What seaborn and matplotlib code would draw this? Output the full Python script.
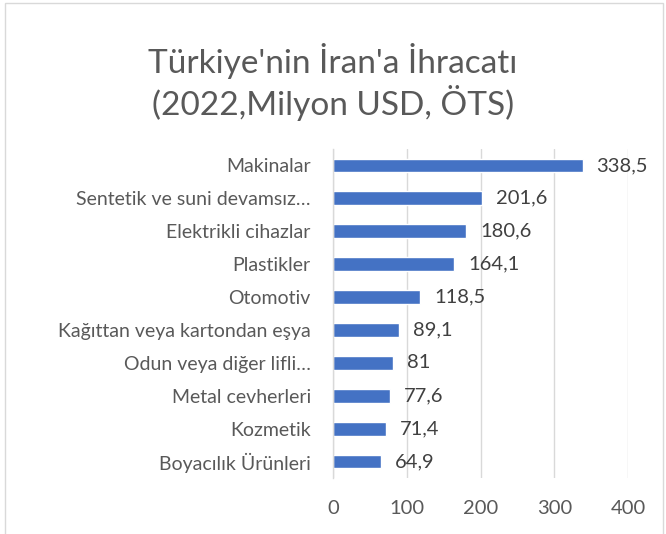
import matplotlib.pyplot as plt
import seaborn as sns
import pandas as pd
import matplotlib.patches as mpatches

# Data
categories=["Makinalar","Sentetik ve suni devamsız…","Elektrikli cihazlar","Plastikler",
	"Otomotiv","Kağıttan veya kartondan eşya","Odun veya diğer lifli…",
	"Metal cevherleri","Kozmetik","Boyacılık Ürünleri"]
values=[338.5,201.6,180.6,164.1,118.5,89.1,81,77.6,71.4,64.9]
xticks=[0,100,200,300,400]
title="Türkiye'nin İran'a İhracatı\n(2022,Milyon USD, ÖTS)"

bar_color="#4472C4"
text_color="#595959"

sns.set_theme(style="white")
plt.rcParams['font.family']=['Lato','DejaVu Sans']

df=pd.DataFrame({"category":categories,"value":values})

fig=plt.figure(figsize=(6.66,5.34),dpi=100)
ax=fig.add_axes([333/666,1-478/534,(628-333)/666,(478-149)/534])

sns.barplot(data=df,x="value",y="category",color=bar_color,width=0.42,
	saturation=1,ax=ax,orient="h")

# Data labels in Turkish decimal format
for i,v in enumerate(values):
	lab=f"{v:g}".replace(".",",")
	ax.annotate(lab,(v,i),xytext=(10,0),textcoords="offset points",
		va="center",ha="left",fontsize=14.5,color="#404040")

ax.set_xlim(0,400)
ax.set_xticks(xticks)
ax.set_xticklabels([str(t) for t in xticks])
ax.set_ylim(len(categories)-0.5,-0.5)
ax.set_xlabel("")
ax.set_ylabel("")

# Gridlines and spines
ax.xaxis.grid(True,color="#D9D9D9",linewidth=1)
ax.set_axisbelow(True)
for s in ["top","right","bottom"]:
	ax.spines[s].set_visible(False)
ax.spines["left"].set_color("#D9D9D9")
ax.spines["left"].set_linewidth(1)

ax.tick_params(axis="y",length=0,pad=16,labelsize=14,labelcolor=text_color)
ax.tick_params(axis="x",length=0,pad=16,labelsize=14.5,labelcolor=text_color)

fig.text(0.5,1-82/534,title,ha="center",va="center",fontsize=24,
	color=text_color,linespacing=1.2)

# Light frame around the chart area
fig.patches.append(mpatches.Rectangle((5/666,-0.05),(663-5)/666,1-3/534+0.05,
	transform=fig.transFigure,fill=False,edgecolor="#D9D9D9",linewidth=1))

fig.savefig("out.png",dpi=100)
